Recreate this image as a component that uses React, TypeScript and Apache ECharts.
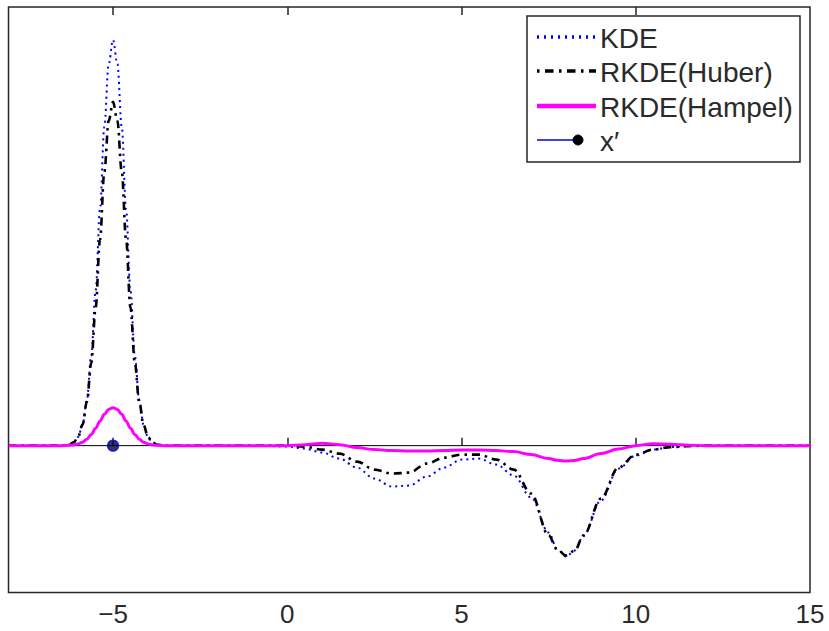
import React, { useEffect, useRef } from "react";
import * as echarts from "echarts";

// ---- data ----
const xs = [
  -8, -7, -6.5, -6.25, -6.125, -6, -5.875, -5.75, -5.625, -5.5, -5.375, -5.25, -5.125, -5,
  -4.875, -4.75, -4.625, -4.5, -4.375, -4.25, -4.125, -4, -3.875, -3.75, -3.5, -3, -2, -1,
  0, 0.5, 1, 1.5, 2, 2.5, 3, 3.5, 4, 4.5, 5, 5.5, 6, 6.5, 7, 7.5, 7.75, 8, 8.25, 8.5, 9, 9.5,
  10, 10.5, 11, 11.5, 12, 13, 14, 15,
];

const kdeValues = [
  0, 0, 0, 0.01, 0.03, 0.086, 0.21, 0.46, 0.9, 1.55, 2.36, 3.19, 3.82, 4.06,
  3.82, 3.19, 2.36, 1.55, 0.9, 0.46, 0.21, 0.086, 0.03, 0.01, 0, 0, 0, 0,
  -0.01, -0.03, -0.07, -0.13, -0.22, -0.33, -0.41, -0.4, -0.31, -0.22, -0.14, -0.13, -0.19,
  -0.3, -0.52, -0.87, -1.04, -1.11, -1.05, -0.9, -0.55, -0.23,
  -0.1, -0.04, -0.015, -0.005, 0, 0, 0, 0,
];

const huberValues = [
  0, 0, 0, 0.011, 0.034, 0.09, 0.21, 0.44, 0.83, 1.38, 2.06, 2.74, 3.25, 3.44,
  3.25, 2.74, 2.06, 1.38, 0.83, 0.44, 0.21, 0.09, 0.034, 0.011, 0, 0, 0, 0,
  0, -0.01, -0.04, -0.08, -0.16, -0.24, -0.28, -0.27, -0.18, -0.12, -0.09, -0.09, -0.14,
  -0.24, -0.48, -0.9, -1.04, -1.1, -1.05, -0.9, -0.53, -0.22,
  -0.09, -0.04, -0.015, -0.005, 0, 0, 0, 0,
];

const hampelValues = [
  0, 0, 0, 0.003, 0.007, 0.017, 0.035, 0.065, 0.112, 0.174, 0.245, 0.313, 0.362, 0.38,
  0.362, 0.313, 0.245, 0.174, 0.112, 0.065, 0.035, 0.017, 0.007, 0.003, 0, 0, 0, 0,
  0, 0.01, 0.025, 0.01, -0.02, -0.04, -0.05, -0.055, -0.055, -0.05, -0.045, -0.045, -0.05,
  -0.06, -0.09, -0.13, -0.147, -0.155, -0.148, -0.13, -0.08, -0.035,
  0, 0.02, 0.015, 0.005, 0, 0, 0, 0,
];

const xPrimeX = [-5];
const xPrimeY = [0];

const zeroLineX = [-8, 15];
const zeroLineY = [0, 0];

const xLabelValues = [-5, 0, 5, 10, 15];
const xTickValues = [-5, 0, 5, 10];

const legendLabels = ["KDE", "RKDE(Huber)", "RKDE(Hampel)", "x\u2032"];

const FONT = "'Liberation Sans', Arial, Helvetica, sans-serif";
const BORDER = "#262626";

function pairs(x: number[], y: number[]) {
  return x.map((v, i) => [v, y[i]]);
}

export default function App() {
  const ref = useRef<HTMLDivElement>(null);

  useEffect(() => {
    if (!ref.current) return;
    const chart = echarts.init(ref.current, null, { renderer: "svg" });

    const legX0 = 537;
    const legX1 = 596;
    const textX = 600;
    const rowY = [37, 71, 106, 140];

    const option: any = {
      animation: false,
      backgroundColor: "#ffffff",
      grid: {
        left: 8.5,
        right: 19,
        top: 7,
        bottom: 38.5,
        show: true,
        borderColor: BORDER,
        borderWidth: 1.5,
        backgroundColor: "transparent",
      },
      xAxis: [
        {
          type: "value",
          min: -8,
          max: 15,
          position: "bottom",
          axisLine: { show: false },
          splitLine: { show: false },
          axisTick: {
            show: true,
            inside: true,
            length: 8,
            customValues: xTickValues,
            lineStyle: { color: BORDER, width: 1.5 },
          },
          axisLabel: {
            show: true,
            customValues: xLabelValues,
            margin: 8,
            fontFamily: FONT,
            fontSize: 26,
            color: "#2a2a2a",
            formatter: (v: number) => (v < 0 ? "\u2212" + Math.abs(v) : String(v)),
          },
        },
        {
          type: "value",
          min: -8,
          max: 15,
          position: "top",
          axisLine: { show: false },
          splitLine: { show: false },
          axisTick: {
            show: true,
            inside: true,
            length: 8,
            customValues: xTickValues,
            lineStyle: { color: BORDER, width: 1.5 },
          },
          axisLabel: { show: false },
        },
      ],
      yAxis: {
        type: "value",
        min: -1.47,
        max: 4.39,
        show: false,
        splitLine: { show: false },
      },
      series: [
        {
          name: "zero",
          type: "line",
          data: pairs(zeroLineX, zeroLineY),
          symbol: "none",
          lineStyle: { color: "#000000", width: 1 },
          silent: true,
          z: 1,
        },
        {
          name: legendLabels[0],
          type: "line",
          data: pairs(xs, kdeValues),
          symbol: "none",
          smooth: 0.35,
          smoothMonotone: "x",
          lineStyle: { color: "#0000ff", width: 2, type: [2, 4] },
          z: 2,
        },
        {
          name: legendLabels[1],
          type: "line",
          data: pairs(xs, huberValues),
          symbol: "none",
          smooth: 0.35,
          smoothMonotone: "x",
          lineStyle: { color: "#000000", width: 2.6, type: [8, 5, 2.5, 5] },
          z: 3,
        },
        {
          name: legendLabels[2],
          type: "line",
          data: pairs(xs, hampelValues),
          symbol: "none",
          smooth: 0.35,
          smoothMonotone: "x",
          lineStyle: { color: "#ff00ff", width: 3 },
          z: 4,
        },
        {
          name: legendLabels[3],
          type: "scatter",
          data: pairs(xPrimeX, xPrimeY),
          symbol: "circle",
          symbolSize: 11,
          itemStyle: { color: "#000033", borderColor: "#0000ff", borderWidth: 1.2 },
          z: 5,
        },
      ],
      graphic: [
        {
          type: "group",
          z: 100,
          children: [
            {
              type: "rect",
              shape: { x: 527, y: 16, width: 273, height: 146 },
              style: { fill: "#ffffff", stroke: BORDER, lineWidth: 1.5 },
            },
            {
              type: "line",
              shape: { x1: legX0, y1: rowY[0], x2: legX1, y2: rowY[0] },
              style: { stroke: "#0000ff", lineWidth: 3.5, lineDash: [2, 5] },
            },
            {
              type: "line",
              shape: { x1: legX0, y1: rowY[1], x2: legX1, y2: rowY[1] },
              style: { stroke: "#000000", lineWidth: 3.5, lineDash: [2.5, 5.5, 8.5, 5.5] },
            },
            {
              type: "line",
              shape: { x1: legX0, y1: rowY[2], x2: legX1, y2: rowY[2] },
              style: { stroke: "#ff00ff", lineWidth: 4.5 },
            },
            {
              type: "line",
              shape: { x1: legX0, y1: rowY[3], x2: 578, y2: rowY[3] },
              style: { stroke: "#0000dd", lineWidth: 1.6 },
            },
            {
              type: "circle",
              shape: { cx: 578, cy: rowY[3], r: 5 },
              style: { fill: "#000000", stroke: "#000033", lineWidth: 1 },
            },
            ...legendLabels.map((t, i) => ({
              type: "text",
              x: textX,
              y: rowY[i] + 1,
              style: {
                text: t,
                fontFamily: FONT,
                fontSize: 28,
                fill: "#2a2a2a",
                verticalAlign: "middle",
                align: "left",
              },
            })),
          ],
        },
      ],
    };

    chart.setOption(option);
    return () => chart.dispose();
  }, []);

  return (
    <div
      ref={ref}
      style={{ position: "fixed", left: 0, top: 0, width: 829, height: 631, background: "#fff" }}
    />
  );
}
